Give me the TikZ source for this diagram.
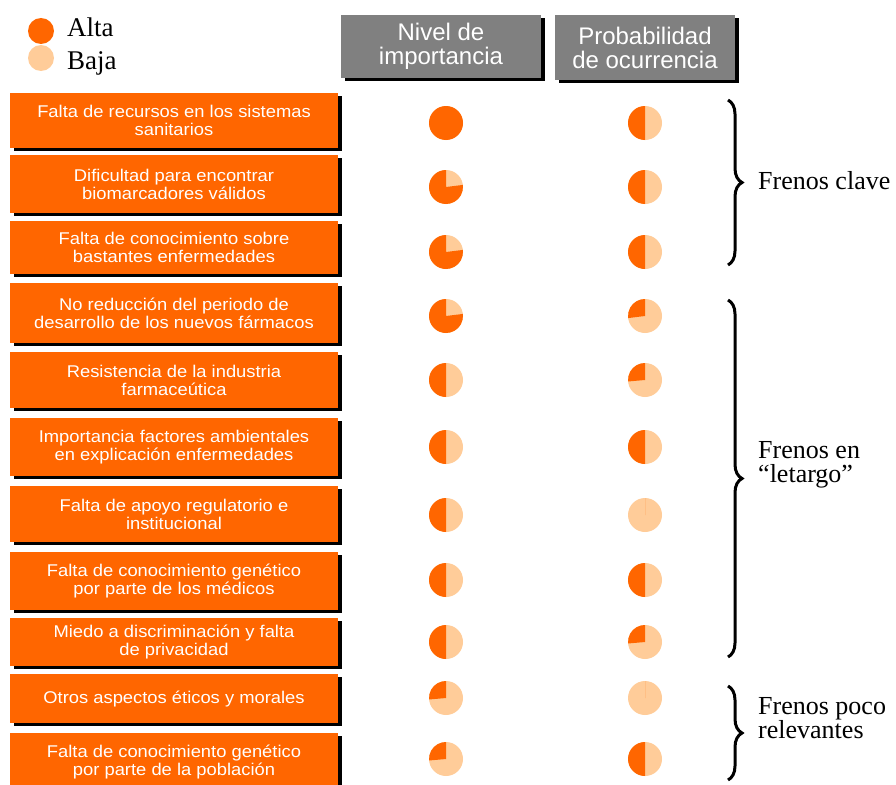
\documentclass[tikz,border=0pt]{standalone}
\usepackage{fontspec}
\setmainfont{Liberation Serif}
\newfontfamily\boxfont[FakeStretch=1.08]{Liberation Sans}
\newfontfamily\headfont{Liberation Sans}
\usetikzlibrary{shadows,decorations.pathreplacing}
\definecolor{alta}{HTML}{FF6600}
\definecolor{baja}{HTML}{FFCC99}
\definecolor{cabecera}{HTML}{808080}
\tikzset{
  sombra/.style={drop shadow={shadow xshift=4pt, shadow yshift=-3pt, fill=black, opacity=1}},
  freno/.style={sombra, fill=alta, text=white, minimum width=328pt, inner sep=0pt, align=center,
    font=\boxfont\fontsize{17}{18}\selectfont},
  cabeza/.style={sombra, fill=cabecera, text=white, inner sep=0pt, align=center,
    font=\headfont\fontsize{24}{24}\selectfont},
  leyenda/.style={anchor=base west, inner sep=0pt, font=\fontsize{27}{27}\selectfont},
  grupo/.style={anchor=west, align=left, inner sep=0pt, font=\fontsize{26}{24}\selectfont},
  llave/.style={decorate, decoration={brace, amplitude=14pt}, line width=3pt}
}
\begin{document}
\begin{tikzpicture}[x=1pt, y=-1pt]
            \useasboundingbox (0,0) rectangle (896,784);
            \newcommand{\colI}{446}
            \newcommand{\colP}{645}
            % dark sector from 90 to #3 degrees
            \newcommand{\harvey}[3]{\fill[baja] (#1,#2) circle[radius=17pt];
              \fill[alta] (#1,#2) -- ++(90:17pt) arc[start angle=90, end angle=#3, radius=17pt] -- cycle;}
            % legend
            \fill[alta] (41,31) circle[radius=13pt];
            \fill[baja] (41,58) circle[radius=13pt];
            \node[leyenda] (alta) at (67,37) {Alta};
            \node[leyenda] (baja) at (67,70) {Baja};
            % headers
            \node[cabeza, minimum width=200pt, minimum height=63pt] (nivel) at (441,46.5) {Nivel de\\importancia};
            \node[cabeza, minimum width=180pt, minimum height=65pt] (prob) at (645,47.5) {Probabilidad\\de ocurrencia};
            % brakes
            \node[freno, minimum height=55pt] (f1) at (174,120.5) {Falta de recursos en los sistemas\\sanitarios};
            \node[freno, minimum height=58pt] (f2) at (174,184) {Dificultad para encontrar\\biomarcadores válidos};
            \node[freno, minimum height=53pt] (f3) at (174,247.5) {Falta de conocimiento sobre\\bastantes enfermedades};
            \node[freno, minimum height=60pt] (f4) at (174,313) {No reducción del periodo de\\desarrollo de los nuevos fármacos};
            \node[freno, minimum height=56pt] (f5) at (174,380) {Resistencia de la industria\\farmaceútica};
            \node[freno, minimum height=58pt] (f6) at (174,447) {Importancia factores ambientales\\en explicación enfermedades};
            \node[freno, minimum height=56pt] (f7) at (174,514) {Falta de apoyo regulatorio e\\institucional};
            \node[freno, minimum height=58pt] (f8) at (174,581) {Falta de conocimiento genético\\por parte de los médicos};
            \node[freno, minimum height=48pt] (f9) at (174,642) {Miedo a discriminación y falta\\de privacidad};
            \node[freno, minimum height=49pt] (f10) at (174,698.5) {Otros aspectos éticos y morales};
            \node[freno, minimum height=57pt] (f11) at (174,761.5) {Falta de conocimiento genético\\por parte de la población};
            % importance and probability
            \harvey{\colI}{123}{450} \harvey{\colP}{123}{270}
            \harvey{\colI}{187}{367} \harvey{\colP}{187}{270}
            \harvey{\colI}{252}{367} \harvey{\colP}{252}{270}
            \harvey{\colI}{316}{367} \harvey{\colP}{316}{187}
            \harvey{\colI}{380}{270} \harvey{\colP}{380}{185}
            \harvey{\colI}{447}{270} \harvey{\colP}{447}{270}
            \harvey{\colI}{515}{270} \harvey{\colP}{515}{90}
            \harvey{\colI}{580}{270} \harvey{\colP}{580}{270}
            \harvey{\colI}{642}{270} \harvey{\colP}{642}{185}
            \harvey{\colI}{698}{185} \harvey{\colP}{698}{90}
            \harvey{\colI}{759}{185} \harvey{\colP}{759}{270}
            % groups
            \draw[llave] (728,100) -- (728,265);
            \draw[llave] (728,300) -- (728,657);
            \draw[llave] (728,686) -- (728,780);
            \node[grupo, anchor=base west] (clave) at (758,189) {Frenos clave};
            \node[grupo] (letargo) at (758,465) {Frenos en\\“letargo”};
            \node[grupo] (poco) at (758,718) {Frenos poco\\relevantes};
\end{tikzpicture}
\end{document}
